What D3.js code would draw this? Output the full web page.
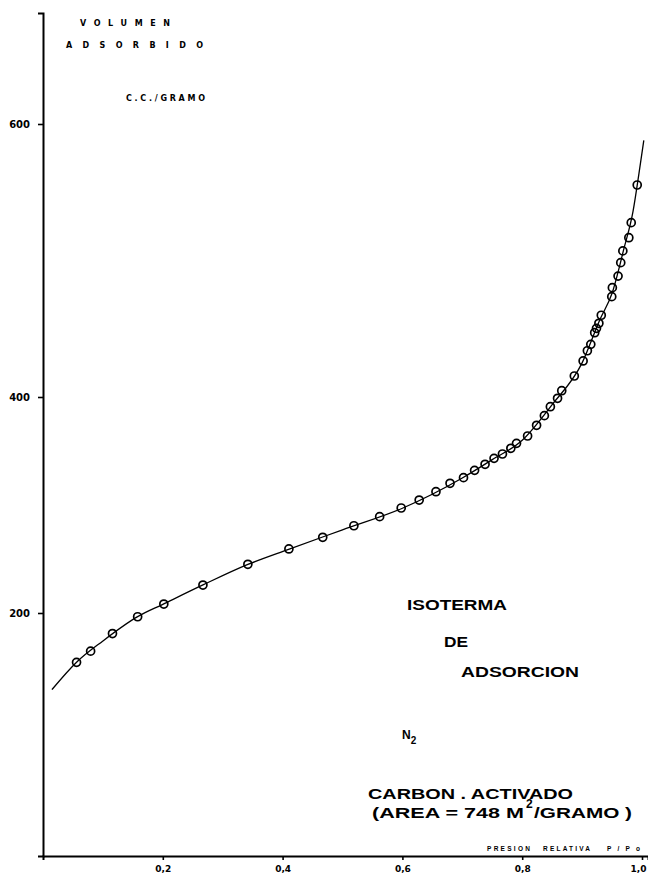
<!DOCTYPE html>
<html>
<head>
<meta charset="utf-8">
<script src="https://cdn.jsdelivr.net/npm/d3@7"></script>
<style>
  html, body { margin: 0; padding: 0; background: #fff; }
  svg { display: block; }
  text { font-family: "Liberation Sans", Arial, sans-serif; font-weight: bold; fill: #000; }
</style>
</head>
<body>
<div id="chart"></div>
<script>
// measured points, relative pressure P/Po vs adsorbed volume (c.c./gramo)
const presion = [0.056, 0.0795, 0.116, 0.158, 0.2017, 0.267, 0.342, 0.4105, 0.467, 0.519,
  0.562, 0.598, 0.628, 0.656, 0.6795, 0.702, 0.7205, 0.738, 0.753, 0.767,
  0.781, 0.7905, 0.809, 0.824, 0.837, 0.847, 0.859, 0.866, 0.887, 0.9017,
  0.9088, 0.9145, 0.921, 0.924, 0.928, 0.932, 0.9495, 0.9505, 0.96, 0.9645,
  0.968, 0.978, 0.982, 0.992];
const volumen = [159.4, 168.6, 183.1, 196.9, 208.3, 225.9, 245.1, 259.3, 270.1, 280.8,
  289.2, 297.2, 304.6, 312.3, 320.1, 325.3, 332.1, 337.7, 343.2, 347.2,
  352.5, 357.1, 363.9, 373.8, 382.7, 391.0, 398.8, 404.6, 415.4, 426.4,
  433.9, 438.6, 447.1, 450.3, 454.0, 459.9, 473.5, 480.1, 488.6, 498.4,
  507.0, 516.7, 527.7, 555.3];

// hand drawn isotherm curve
const curvaP = [0.015, 0.056, 0.1, 0.158, 0.2, 0.267, 0.342, 0.41, 0.5,
  0.6, 0.7, 0.75, 0.8, 0.85, 0.9, 0.93, 0.95, 0.97, 0.985, 0.995, 1.003];
const curvaV = [137, 159.5, 177, 197, 208, 226, 245, 259, 277,
  297, 325, 342, 360, 393, 425, 457, 476, 509, 536, 564, 588];

const xTicks = [0.2, 0.4, 0.6, 0.8, 1.0];
const xTickLabels = ["0,2", "0,4", "0,6", "0,8", "1,0"];
const yTicks = [200, 400, 600];

const W = 648, H = 878;
const svg = d3.select("#chart").append("svg")
  .attr("width", W).attr("height", H);

const x = d3.scaleLinear().domain([0, 1.01]).range([43, 648]);
// the paper scale is not uniform, so the y scale is piecewise
const y = d3.scaleLinear().domain([0, 200, 400, 600, 681]).range([856, 613, 397, 124, 13]);

const xAxis = svg.append("g")
  .attr("transform", `translate(0,${y(0)})`)
  .call(d3.axisBottom(x).tickValues(xTicks)
    .tickFormat((d, i) => xTickLabels[i]).tickSizeOuter(0).tickSize(4).tickPadding(6));
xAxis.select(".domain").attr("stroke-width", 2);
xAxis.selectAll(".tick line").attr("stroke-width", 1.6);
xAxis.selectAll(".tick text").style("font-size", "9px").style("font-family", "DejaVu Sans");
// last label sits against the page edge
xAxis.selectAll(".tick text").filter(d => d === 1.0)
  .attr("text-anchor", "end").attr("dx", 4);

const yAxis = svg.append("g")
  .attr("transform", `translate(${x(0)},0)`)
  .call(d3.axisLeft(y).tickValues(yTicks).tickSizeOuter(0).tickSize(5).tickPadding(8));
yAxis.select(".domain").attr("stroke-width", 2);
yAxis.selectAll(".tick line").attr("stroke-width", 1.6);
yAxis.selectAll(".tick text").style("font-size", "10px").style("font-family", "DejaVu Sans");

const line = d3.line()
  .x((d, i) => x(curvaP[i]))
  .y(d => y(d))
  .curve(d3.curveMonotoneX);

svg.append("path")
  .datum(curvaV)
  .attr("d", line)
  .attr("fill", "none")
  .attr("stroke", "#000")
  .attr("stroke-width", 1.3);

svg.append("g").selectAll("circle")
  .data(volumen)
  .join("circle")
  .attr("cx", (d, i) => x(presion[i]))
  .attr("cy", d => y(d))
  .attr("r", 4)
  .attr("fill", "none")
  .attr("stroke", "#000")
  .attr("stroke-width", 1.7);

// labels
function label(t, px, py, size, len) {
  const el = svg.append("text").attr("x", px).attr("y", py)
    .attr("font-size", size).text(t);
  if (len) el.attr("textLength", len);
  return el;
}

label("VOLUMEN", 80, 26, 8, 90).style("font-family", "DejaVu Sans");
label("ADSORBIDO", 66, 48, 8, 137).style("font-family", "DejaVu Sans");
label("C.C./GRAMO", 126, 101, 8, 79).style("font-family", "DejaVu Sans");

label("ISOTERMA", 407, 610, 14, 100).attr("lengthAdjust", "spacingAndGlyphs");
label("DE", 444, 647, 14, 24).attr("lengthAdjust", "spacingAndGlyphs");
label("ADSORCION", 461, 677, 14, 118).attr("lengthAdjust", "spacingAndGlyphs");

const n2 = svg.append("text").attr("x", 402).attr("y", 739).attr("font-size", 12);
n2.append("tspan").text("N");
n2.append("tspan").attr("font-size", 10).attr("dy", 5).text("2");

label("CARBON . ACTIVADO", 368, 799, 15, 205).attr("lengthAdjust", "spacingAndGlyphs");

const area = svg.append("text").attr("x", 372).attr("y", 818).attr("font-size", 14);
area.append("tspan").attr("textLength", 152).attr("lengthAdjust", "spacingAndGlyphs")
  .text("(AREA = 748 M");
area.append("tspan").attr("x", 526).attr("dy", -10).attr("font-size", 12).text("2");
area.append("tspan").attr("x", 534).attr("dy", 10).attr("textLength", 98)
  .attr("lengthAdjust", "spacingAndGlyphs").text("/GRAMO )");

label("PRESION", 487, 851, 6.5, 43);
label("RELATIVA", 543, 851, 6.5, 47);
label("P/Po", 607, 851, 6.5, 33);
</script>
</body>
</html>
